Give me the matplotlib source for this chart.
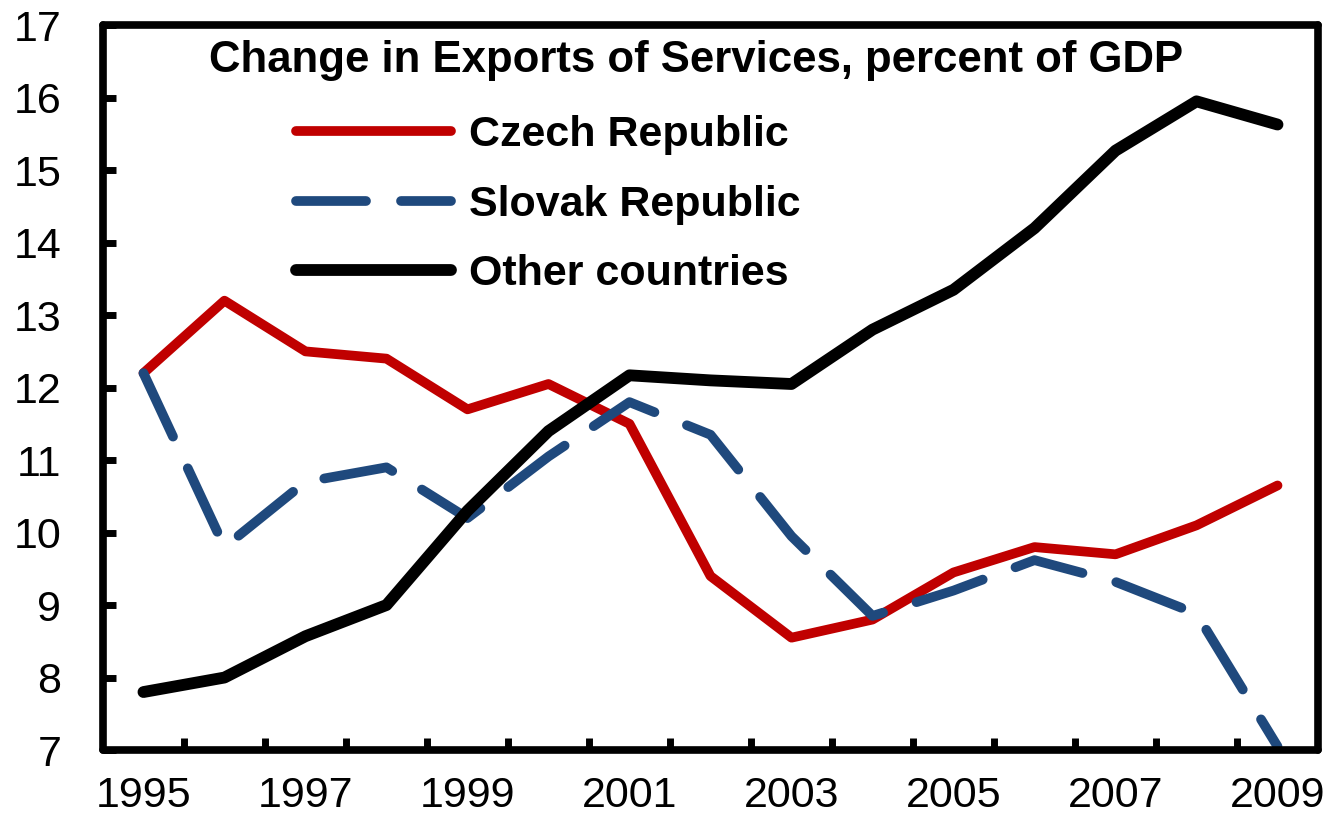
import matplotlib
matplotlib.use('Agg')
import matplotlib.pyplot as plt
import numpy as np

# Data
years = list(range(1995, 2010))
czech = [12.2, 13.2, 12.5, 12.4, 11.7, 12.05, 11.5, 9.4, 8.55, 8.8, 9.45, 9.8, 9.7, 10.1, 10.65]
slovak = [12.2, 9.8, 10.7, 10.9, 10.2, 11.05, 11.8, 11.35, 9.95, 8.85, 9.2, 9.62, 9.32, 8.88, 7.05]
other = [7.8, 8.0, 8.57, 9.0, 10.3, 11.4, 12.17, 12.1, 12.05, 12.8, 13.35, 14.2, 15.27, 15.95, 15.63]

title = 'Change in Exports of Services, percent of GDP'
series_names = ['Czech Republic', 'Slovak Republic', 'Other countries']

plt.rcParams['font.family'] = ['Liberation Sans', 'DejaVu Sans']

fig = plt.figure(figsize=(13.3, 8.14), dpi=100)
ax = fig.add_axes([0.0774, 0.0786, 0.9136, 0.8904])

x = np.arange(len(years))
ax.plot(x, czech, color='#C00000', lw=7, solid_capstyle='round', solid_joinstyle='round',
        label=series_names[0])
ax.plot(x, slovak, color='#1F497D', lw=7, dashes=(7.2, 3.6), dash_capstyle='round',
        dash_joinstyle='round', label=series_names[1])
ax.plot(x, other, color='black', lw=8.5, solid_capstyle='round', solid_joinstyle='round',
        label=series_names[2])

ax.set_xlim(-0.5, len(years) - 0.5)
ax.set_ylim(7, 17)

# category boundary ticks (unlabelled) + labels every other year
ax.set_xticks(np.arange(0.5, len(years) - 1, 1.0))
ax.set_xticklabels([])
ax.set_xticks(x[::2], minor=True)
ax.set_xticklabels([str(y) for y in years[::2]], minor=True)
ax.tick_params(axis='x', which='major', direction='in', length=9, width=5)
ax.tick_params(axis='x', which='minor', length=0, pad=19, labelsize=31)

ax.set_yticks(range(7, 18))
ax.tick_params(axis='y', direction='in', length=9, width=5, pad=30, labelsize=31)
for t in ax.yaxis.get_major_ticks():
    if t.get_loc() in (7, 17):
        t.tick1line.set_visible(False)

for s in ax.spines.values():
    s.set_linewidth(5.5)
    s.set_capstyle('round')

ax.text(0.488, 0.952, title, transform=ax.transAxes, ha='center', va='center',
        fontsize=31.5, fontweight='bold')

leg = ax.legend(loc='upper left', bbox_to_anchor=(0.145, 0.9), frameon=False,
                prop={'size': 31, 'weight': 'bold'}, handlelength=3.6, handletextpad=0.4,
                labelspacing=0.69, borderaxespad=0)

fig.savefig('out.png', dpi=100)
